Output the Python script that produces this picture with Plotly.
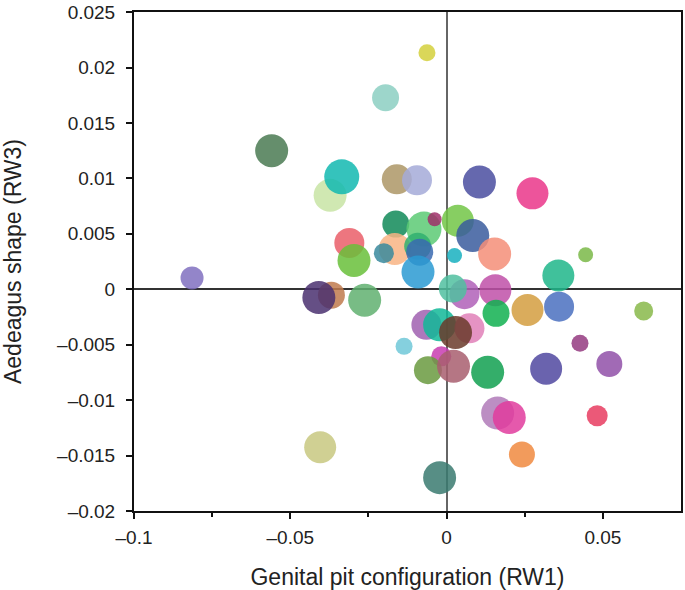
import plotly.graph_objects as go

# RW1 (genital pit configuration), RW3 (aedeagus shape), bubble size, colour
rw1 = [-0.00627, -0.01952, -0.05596, -0.03726, -0.03354, -0.01592, -0.00946, 0.01051,
       0.02748, 0.0036, 0.00838, 0.01538, 0.04449, 0.00255, -0.01624, -0.03111,
       -0.02962, -0.01656, -0.02006, -0.00723, -0.00382, -0.00924, -0.0086, -0.00914,
       0.03576, 0.02589, 0.03599, 0.06306, 0.04268, 0.05207, 0.04818, 0.03185,
       0.01315, 0.01634, 0.02006, 0.02411, -0.00223, 0.0156, 0.01583, 0.00573,
       0.002, -0.00646, -0.00223, 0.00732, 0.00287, -0.00169, -0.00596, 0.00223,
       -0.0136, -0.08143, -0.03685, -0.04086, -0.02621, -0.04044]
rw3 = [0.02133, 0.01727, 0.0125, 0.00847, 0.01014, 0.00992, 0.00983, 0.00967,
       0.00865, 0.00618, 0.00484, 0.00319, 0.00312, 0.00305, 0.00588, 0.00418,
       0.0026, 0.00364, 0.00326, 0.00543, 0.00632, 0.00388, 0.00335, 0.00156,
       0.00124, -0.00187, -0.00157, -0.00196, -0.00486, -0.00674, -0.01141, -0.00717,
       -0.00748, -0.01117, -0.01157, -0.0149, -0.01699, -0.00008, -0.00217, -0.00044,
       0.00006, -0.00321, -0.00321, -0.00352, -0.0039, -0.00605, -0.0073, -0.00694,
       -0.00515, 0.00102, -0.00053, -0.00074, -0.00098, -0.01425]
size = [17, 27, 33, 33, 35, 30, 30, 33,
        32, 32, 33, 33, 15, 15, 27, 30,
        33, 32, 20, 35, 14, 27, 27, 33,
        32, 32, 30, 19, 17, 26, 21, 32,
        33, 33, 33, 26, 33, 32, 27, 30,
        28, 30, 33, 30, 33, 20, 28, 33,
        17, 23, 27, 33, 33, 32]
colors = ["#d4d03c", "#8ccfc2", "#4a7a52", "#c8e4a4", "#12b8b0", "#ad9766", "#a4aad8", "#4a4ea0",
          "#ea368a", "#72c646", "#3a5c9e", "#f48e78", "#7ab848", "#18b0c0", "#108a58", "#ea5e68",
          "#68c03a", "#f8b484", "#3a8a9e", "#5cca74", "#a0306a", "#30b070", "#3a6ab0", "#2a9ad2",
          "#1eb68a", "#d49e40", "#4a70c0", "#88b84a", "#943a80", "#9050a8", "#e83c60", "#5048a0",
          "#10a050", "#b07ab8", "#e03c9e", "#f08a40", "#3a7a70", "#c050a8", "#10b050", "#b060b8",
          "#50c0a0", "#a060b0", "#10b898", "#e080b8", "#6a3a2a", "#c83cb0", "#6a9a40", "#a85e6e",
          "#70c8d8", "#8070c0", "#c07a4e", "#4a3070", "#60b070", "#c8c880"]

xticks = [-0.1, -0.05, 0, 0.05]
xtick_text = ["\u20130.1", "\u20130.05", "0", "0.05"]
yticks = [0.025, 0.02, 0.015, 0.01, 0.005, 0, -0.005, -0.01, -0.015, -0.02]
ytick_text = ["0.025", "0.02", "0.015", "0.01", "0.005", "0",
              "\u20130.005", "\u20130.01", "\u20130.015", "\u20130.02"]

fig = go.Figure()
fig.add_trace(go.Scatter(
    x=rw1, y=rw3, mode="markers",
    marker=dict(size=size, color=colors, opacity=0.85, line=dict(width=0)),
    hoverinfo="x+y", showlegend=False,
))

font = dict(family="Liberation Sans, Arial, sans-serif", size=19.5, color="#222")
fig.update_layout(
    width=685, height=590,
    margin=dict(l=134, r=2, t=8, b=79),
    paper_bgcolor="white", plot_bgcolor="white",
    font=font,
    xaxis=dict(
        range=[-0.1, 0.075], tickvals=xticks, ticktext=xtick_text,
        tickfont=dict(size=19),
        ticks="outside", ticklen=6, tickwidth=1.5, tickcolor="#111",
        minor=dict(tickvals=[-0.075, -0.025, 0.025], ticks="outside", ticklen=4, tickwidth=1.5, tickcolor="#111"),
        showline=True, linecolor="#111", linewidth=2, mirror=True,
        showgrid=False, zeroline=True, zerolinecolor="#666", zerolinewidth=1.5,
        title=dict(text="Genital pit configuration (RW1)", standoff=22),
        ticklabelstandoff=2,
        layer="above traces",
    ),
    yaxis=dict(
        range=[-0.02, 0.02501], tickvals=yticks, ticktext=ytick_text,
        tickfont=dict(size=19),
        ticks="outside", ticklen=6, tickwidth=1.5, tickcolor="#111",
        showline=True, linecolor="#111", linewidth=2, mirror=True,
        showgrid=False, zeroline=True, zerolinecolor="#333", zerolinewidth=1.5,
        title=dict(text="Aedeagus shape (RW3)", standoff=30),
        ticklabelstandoff=7, ticklabeloverflow="allow",
        layer="above traces",
    ),
)

fig.write_html("out.html", config={"displayModeBar": False},
               post_script="document.body.style.margin='0';document.body.style.padding='0';")
